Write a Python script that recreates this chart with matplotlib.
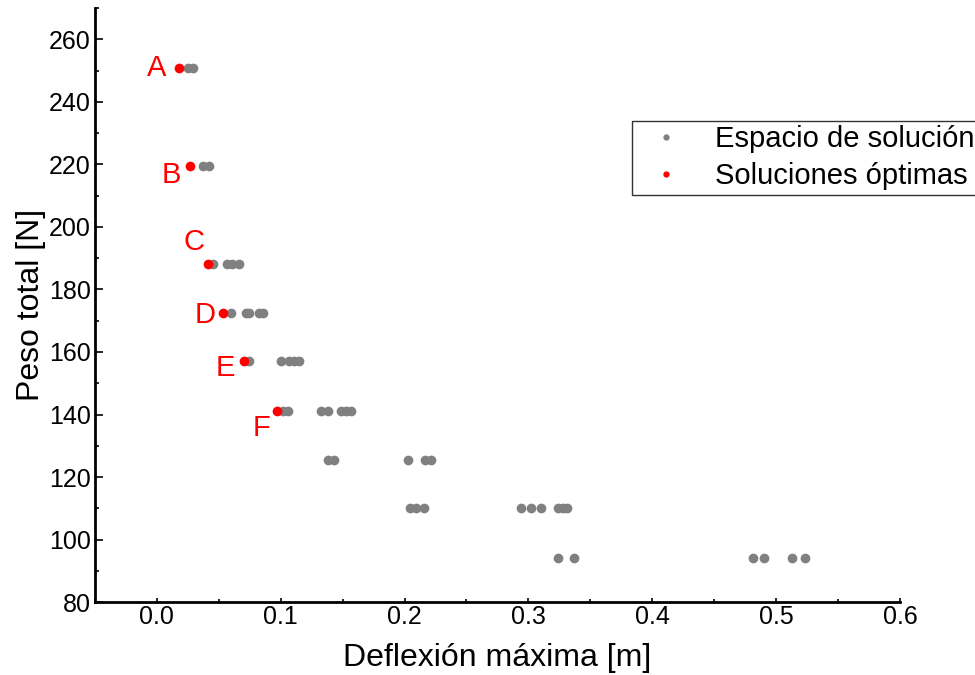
import numpy as np
import matplotlib.pyplot as plt
from matplotlib.ticker import MultipleLocator

plt.rcParams['font.family'] = ['Liberation Sans', 'DejaVu Sans']

# Espacio de solución (deflexión [m], peso [N])
defl_espacio = [0.025, 0.029,
                0.037, 0.042,
                0.045, 0.0565, 0.061, 0.066,
                0.060, 0.072, 0.074, 0.0826, 0.0854,
                0.0746, 0.100, 0.1066, 0.1107, 0.1147,
                0.1015, 0.106, 0.1325, 0.138, 0.149, 0.153, 0.157,
                0.138, 0.143, 0.203, 0.2165, 0.221,
                0.204, 0.209, 0.216, 0.294, 0.302, 0.310, 0.324, 0.328, 0.331,
                0.324, 0.3366, 0.4815, 0.4906, 0.5127, 0.5234]
peso_espacio = [251, 251,
                219.6, 219.6,
                188.2, 188.2, 188.2, 188.2,
                172.6, 172.6, 172.6, 172.6, 172.6,
                157, 157, 157, 157, 157,
                141.2, 141.2, 141.2, 141.2, 141.2, 141.2, 141.2,
                125.6, 125.6, 125.6, 125.6, 125.6,
                110, 110, 110, 110, 110, 110, 110, 110, 110,
                94.2, 94.2, 94.2, 94.2, 94.2, 94.2]

# Soluciones óptimas
etiquetas = ['A', 'B', 'C', 'D', 'E', 'F']
defl_optimas = [0.0178, 0.0267, 0.041, 0.0536, 0.0705, 0.0967]
peso_optimas = [251, 219.6, 188.2, 172.6, 157, 141.2]
# desplazamiento de las etiquetas (pixeles)
desplaz = [(-22, 0), (-19, -9), (-14, 22), (-18, -2), (-19, -7), (-15, -17)]

fig = plt.figure(figsize=(9.75, 6.75), dpi=100)
ax = fig.add_axes([0.0974, 0.108, 0.8256, 0.88])

ax.plot(defl_espacio, peso_espacio, 'o', color='#808080', markersize=7,
        markeredgewidth=0, label='Espacio de solución')
ax.plot(defl_optimas, peso_optimas, 'o', color='#ff0000', markersize=7,
        markeredgewidth=0, label='Soluciones óptimas')

for lab, x, y, d in zip(etiquetas, defl_optimas, peso_optimas, desplaz):
    ax.annotate(lab, (x, y), xytext=d, textcoords='offset pixels',
                color='#ff0000', fontsize=21, ha='center', va='center')

ax.set_xlim(-0.05, 0.6)
ax.set_ylim(80, 270)
ax.xaxis.set_major_locator(MultipleLocator(0.1))
ax.xaxis.set_minor_locator(MultipleLocator(0.05))
ax.yaxis.set_major_locator(MultipleLocator(20))
ax.yaxis.set_minor_locator(MultipleLocator(10))
ax.xaxis.set_major_formatter(lambda v, p: f'{v:.1f}')

ax.spines['top'].set_visible(False)
ax.spines['right'].set_visible(False)
ax.spines['left'].set_linewidth(2)
ax.spines['bottom'].set_linewidth(2)

ax.tick_params(axis='both', which='both', direction='in', labelsize=18, width=1.2)
ax.tick_params(axis='y', which='major', length=6, pad=3)
ax.tick_params(axis='y', which='minor', length=3)
ax.tick_params(axis='x', which='major', length=3, pad=2)
ax.tick_params(axis='x', which='minor', length=2)

ax.set_xlabel('Deflexión máxima [m]', fontsize=23, labelpad=10)
ax.set_ylabel('Peso total [N]', fontsize=23, labelpad=2)

leg = ax.legend(loc='upper left', bbox_to_anchor=(632 / 975, 1 - 121 / 675),
                bbox_transform=fig.transFigure, borderaxespad=0,
                fontsize=21, markerscale=0.65, frameon=True, fancybox=False,
                borderpad=0.15, labelspacing=0.3, handletextpad=0.7)
leg.get_frame().set_edgecolor('black')
leg.get_frame().set_linewidth(1)

fig.savefig('out.png', dpi=100)
